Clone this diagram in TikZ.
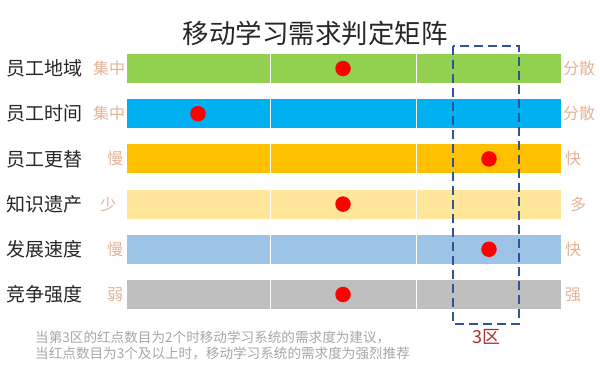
\documentclass[tikz,border=0pt]{standalone}
\usepackage{fontspec}
\setmainfont{Noto Sans CJK SC}
\usetikzlibrary{positioning}
\definecolor{barA}{HTML}{92D050}
\definecolor{barB}{HTML}{00B0F0}
\definecolor{barC}{HTML}{FFC000}
\definecolor{barD}{HTML}{FFE699}
\definecolor{barE}{HTML}{9DC3E6}
\definecolor{barF}{HTML}{BFBFBF}
\definecolor{pole}{HTML}{E2B497}
\definecolor{zone}{HTML}{2F5597}
\definecolor{zonetxt}{HTML}{A8302E}
\definecolor{note}{HTML}{A6A6A6}
\tikzset{
  rowlabel/.style={anchor=west, font=\fontsize{19}{21}\selectfont, text=black!85, inner sep=0pt},
  polelabel/.style={font=\fontsize{16}{18}\selectfont, text=pole, inner sep=0pt},
  reddot/.style={circle, fill=red, minimum size=15.5pt, inner sep=0pt}
}
\begin{document}
\begin{tikzpicture}[x=1pt,y=-1pt]
      \useasboundingbox (0,0) rectangle (600,372);

      % Title
      \node[font=\fontsize{26.5}{28}\selectfont, text=black!85] (title) at (315,33) {移动学习需求判定矩阵};

      % Bars, labels and dots
      \foreach \i/\name/\col/\lo/\lx/\hi/\hx/\dx in {0/员工地域/barA/集中/109/分散/579/343,
                                                  1/员工时间/barB/集中/109/分散/579/198,
                                                  2/员工更替/barC/慢/115/快/573/489,
                                                  3/知识遗产/barD/少/108/多/578/343,
                                                  4/发展速度/barE/慢/115/快/573/489,
                                                  5/竞争强度/barF/弱/115/强/573/343} {
        \pgfmathsetmacro{\y}{68.5+45.2*\i}
        \fill[\col] (127,\y-14.5) rectangle (561,\y+14.5);
        \draw[white, line width=0.8pt] (270,\y-14.5) -- (270,\y+14.5)
                                       (416,\y-14.5) -- (416,\y+14.5);
        \node[rowlabel] (row\i) at (6,\y) {\name};
        \node[polelabel] (lo\i) at (\lx,\y) {\lo};
        \node[polelabel] (hi\i) at (\hx,\y) {\hi};
        \node[reddot] (dot\i) at (\dx,\y) {};
      }

      % Zone 3
      \draw[zone, line width=1.6pt, dash pattern=on 9pt off 5pt] (453,46) rectangle (519,324);
      \node[font=\fontsize{18}{20}\selectfont, text=zonetxt] (zone3) at (486,337) {3区};

      % Note
      \node[anchor=west, align=left, font=\fontsize{13.6}{16}\selectfont, text=note, inner sep=0pt]
        (note) at (35,345) {当第3区的红点数目为2个时移动学习系统的需求度为建议，\\当红点数目为3个及以上时，移动学习系统的需求度为强烈推荐};
\end{tikzpicture}
\end{document}
